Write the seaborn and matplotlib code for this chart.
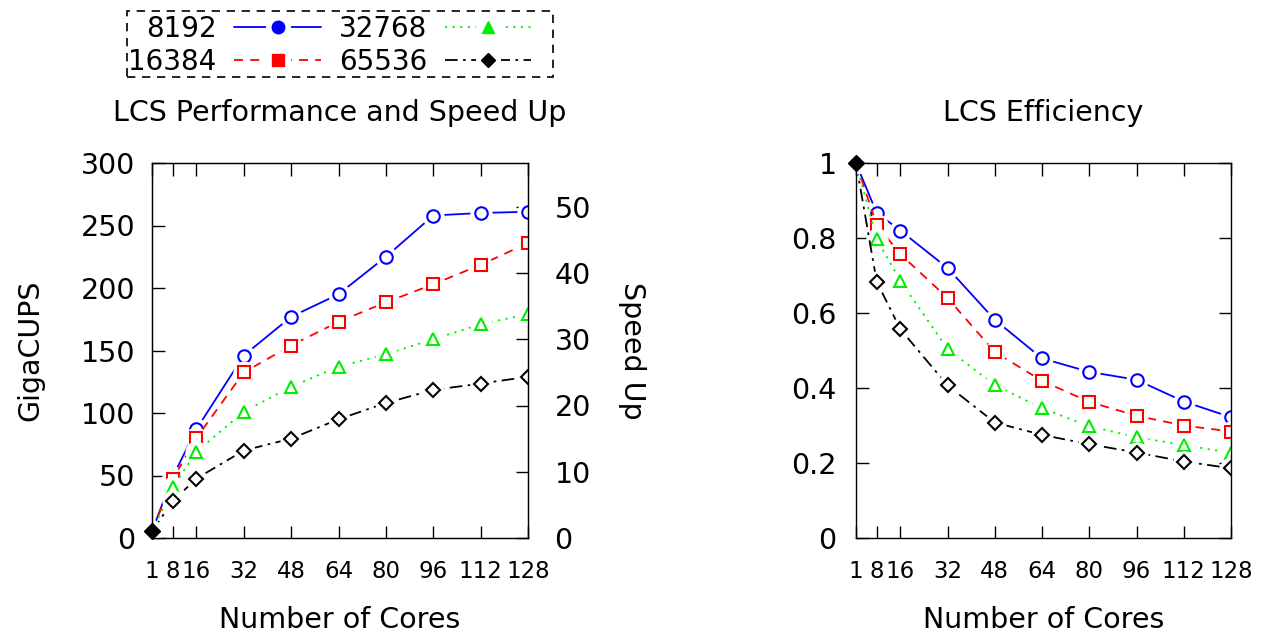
import numpy as np
import pandas as pd
import matplotlib
matplotlib.use("Agg")
import matplotlib.pyplot as plt
import matplotlib.patches as patches
import seaborn as sns
from matplotlib.lines import Line2D
from matplotlib.legend_handler import HandlerTuple

# Данні з графіка
cores = [1, 8, 16, 32, 48, 64, 80, 96, 112, 128]
sizes = ["8192", "16384", "32768", "65536"]

gcups_8192 = [5.3, 49, 87, 146, 177, 195, 225, 258, 260, 261]
gcups_16384 = [5.3, 47, 80, 132.5, 154, 173, 188.5, 203, 218.5, 236]
gcups_32768 = [5.3, 40.5, 69, 101, 121, 137, 147, 159, 171, 179]
gcups_65536 = [5.3, 29.5, 47.5, 70, 79.5, 95, 108, 118.5, 123.5, 129]

eff_8192 = [1, 0.867, 0.820, 0.720, 0.582, 0.479, 0.443, 0.422, 0.364, 0.322]
eff_16384 = [1, 0.836, 0.757, 0.640, 0.496, 0.419, 0.363, 0.326, 0.300, 0.284]
eff_32768 = [1, 0.797, 0.686, 0.504, 0.408, 0.346, 0.298, 0.269, 0.248, 0.227]
eff_65536 = [1, 0.684, 0.557, 0.407, 0.308, 0.275, 0.250, 0.228, 0.204, 0.186]

gcups = [gcups_8192, gcups_16384, gcups_32768, gcups_65536]
effs = [eff_8192, eff_16384, eff_32768, eff_65536]

colors = ["#0000ff", "#ff0000", "#00ee00", "#000000"]
styles = ["-", (0, (5, 4)), (0, (1.2, 3)), (0, (7, 3, 1.5, 3))]
markers = ["o", "s", "^", "D"]
msizes = [9, 8.5, 9, 7]
halo = 15  # білий "пробіл" навколо точок, як у gnuplot

sns.set_style("ticks")
plt.rcParams['font.family'] = ['DejaVu Sans']
plt.rcParams.update({"text.color": "black", "axes.labelcolor": "black",
                     "xtick.color": "black", "ytick.color": "black"})

fig = plt.figure(figsize=(12.7, 6.39), dpi=100)
ax1 = fig.add_axes([152 / 1270, 1 - 538 / 639, 376 / 1270, 375 / 639])
ax3 = fig.add_axes([856 / 1270, 1 - 538 / 639, 375 / 1270, 375 / 639])
ax2 = ax1.twinx()
ax2.set_zorder(ax1.get_zorder() - 1)
ax1.patch.set_visible(False)

for i, name in enumerate(sizes):
    df = pd.DataFrame({"cores": cores, "gcups": gcups[i], "eff": effs[i]})
    for ax, col in [(ax1, "gcups"), (ax3, "eff")]:
        sns.lineplot(data=df, x="cores", y=col, ax=ax, color=colors[i],
                     linestyle=styles[i], linewidth=1.3, sort=False)
        ax.plot(df["cores"], df[col], linestyle="none", marker="o",
                markersize=halo, markerfacecolor="white",
                markeredgecolor="white")
        ax.plot(df["cores"][1:], df[col][1:], linestyle="none",
                marker=markers[i], markersize=msizes[i],
                markerfacecolor="none", markeredgecolor=colors[i],
                markeredgewidth=1.5)

# Перша точка (1 ядро) - зафарбований ромб
ax1.plot(cores[0], gcups_65536[0], marker="D", color="black", markersize=8,
         clip_on=False, zorder=10)
ax3.plot(cores[0], eff_65536[0], marker="D", color="black", markersize=8,
         clip_on=False, zorder=10)

base = gcups_65536[0]
ax1.set_xlim(1, 128)
ax1.set_ylim(0, 300)
ax1.set_yticks(range(0, 301, 50))
ax2.set_ylim(0, 300 / base)
ax2.set_yticks(range(0, 51, 10))
ax3.set_xlim(1, 128)
ax3.set_ylim(0, 1)
ax3.set_yticks([0, 0.2, 0.4, 0.6, 0.8, 1])
ax3.set_yticklabels(["0", "0.2", "0.4", "0.6", "0.8", "1"])

for ax in (ax1, ax3):
    ax.set_xticks(cores)
    ax.tick_params(axis="x", which="both", direction="in", length=9, width=1,
                   top=True, labelsize=16.5, pad=16)
    ax.tick_params(axis="y", direction="in", length=9, width=1, labelsize=20.5)
    ax.set_xlabel("Number of Cores", fontsize=20.5)
    ax.xaxis.set_label_coords(0.5, -0.219)
    ax.xaxis.label.set_va("center")
    for sp in ax.spines.values():
        sp.set_linewidth(1)
        sp.set_color("black")
        sp.set_zorder(5)

ax1.tick_params(axis="y", pad=12)
ax3.tick_params(axis="y", right=True, pad=14)
ax2.tick_params(axis="y", direction="in", length=9, width=1, labelsize=20.5, pad=19)

ax1.set_ylabel("GigaCUPS", fontsize=20.5)
ax1.yaxis.set_label_coords(-0.324, 0.5)
ax1.yaxis.label.set_va("center")
ax2.set_ylabel("Speed Up", fontsize=20.5, rotation=270)
ax2.yaxis.set_label_coords(1.277, 0.5)
ax2.yaxis.label.set_va("center")
ax3.set_ylabel("")

ax1.set_title("LCS Performance and Speed Up", fontsize=20.5, y=1.133,
              va="center", pad=0)
ax3.set_title("LCS Efficiency", fontsize=20.5, y=1.133, va="center", pad=0)

# Легенда
handles = []
for i in range(4):
    ln = Line2D([], [], color=colors[i], linestyle=styles[i], linewidth=1.3)
    hl = Line2D([], [], linestyle="none", marker="o", markersize=halo + 2,
                markerfacecolor="white", markeredgecolor="white")
    mk = Line2D([], [], linestyle="none", marker=markers[i],
                markersize=msizes[i], color=colors[i])
    handles.append((ln, hl, mk))
leg = fig.legend(handles, sizes, loc="upper left",
                 bbox_to_anchor=(124 / 1270, 1 - 11 / 639), ncol=2,
                 markerfirst=False, fontsize=20, handlelength=3.1,
                 handletextpad=0.65, columnspacing=0.65, labelspacing=0.17,
                 borderpad=0.15, borderaxespad=0, frameon=False,
                 handler_map={tuple: HandlerTuple(ndivide=1, pad=0)})

# Пунктирна рамка легенди (як у gnuplot, з відступом праворуч)
fig.patches.append(patches.Rectangle((127 / 1270, 1 - 77 / 639), 426 / 1270,
                                     66 / 639, transform=fig.transFigure,
                                     fill=False, edgecolor="black",
                                     linewidth=1.2, linestyle=(0, (5, 4))))

plt.savefig("out.png", dpi=100)
